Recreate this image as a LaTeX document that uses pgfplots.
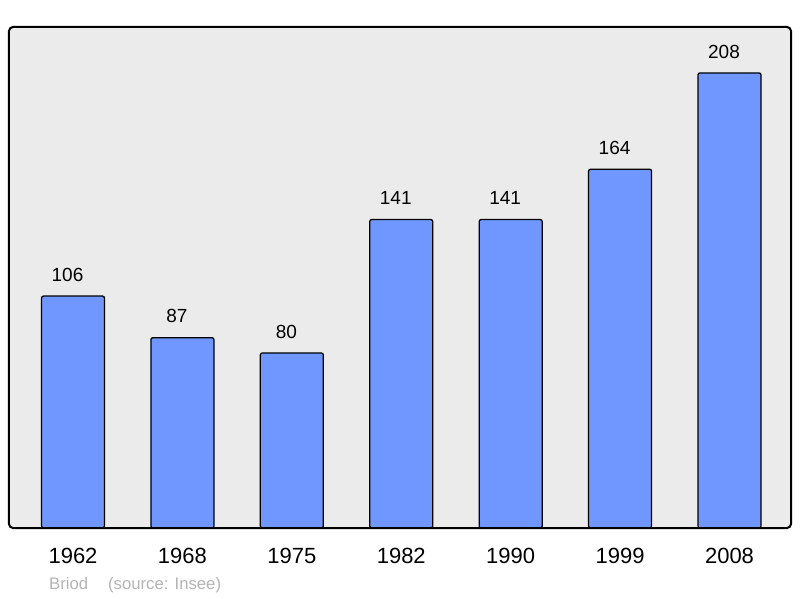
\documentclass[border=0pt]{standalone}
\usepackage{fontspec}
\setmainfont{Liberation Sans}
\usepackage{pgfplots}
\pgfplotsset{compat=1.18}
\definecolor{barblue}{RGB}{112,150,255}
\definecolor{bggray}{RGB}{235,235,235}
\definecolor{notegray}{RGB}{180,180,180}
\begin{document}
\begin{tikzpicture}[x=1pt,y=1pt]
\useasboundingbox (0,0) rectangle (800,598);
\begin{axis}[
 at={(9pt,70pt)}, anchor=south west,
 width=782pt, height=501pt, scale only axis,
 xmin=-0.585, xmax=6.562, ymin=0, ymax=229,
 /pgf/number format/assume math mode=true,
 axis background/.style={fill=bggray},
 axis line style={draw=none},
 ytick=\empty,
 xtick={0,...,6},
 xticklabels={1962,1968,1975,1982,1990,1999,2008},
 major tick length=0pt,
 x tick label style={anchor=base, yshift=-35pt, inner sep=0pt, font=\fontsize{22}{26}\selectfont},
 ybar, bar width=63pt,
 nodes near coords,
 nodes near coords style={anchor=south, yshift=14pt, xshift=-5.5pt, inner sep=0pt, font=\fontsize{19}{22}\selectfont},
 clip=false,
]
\addplot[fill=barblue, draw=black, line width=1.3pt, rounded corners=2pt] coordinates {(0,106) (1,87) (2,80) (3,141) (4,141) (5,164) (6,208)};
\draw[line width=2pt, rounded corners=4pt] (rel axis cs:0,0) rectangle (rel axis cs:1,1);
\end{axis}
\node[anchor=base west, inner sep=0pt, text=notegray, font=\fontsize{16.7}{20}\selectfont] at (49,9) {Briod\hspace{20pt}(source: Insee)};
\end{tikzpicture}
\end{document}
